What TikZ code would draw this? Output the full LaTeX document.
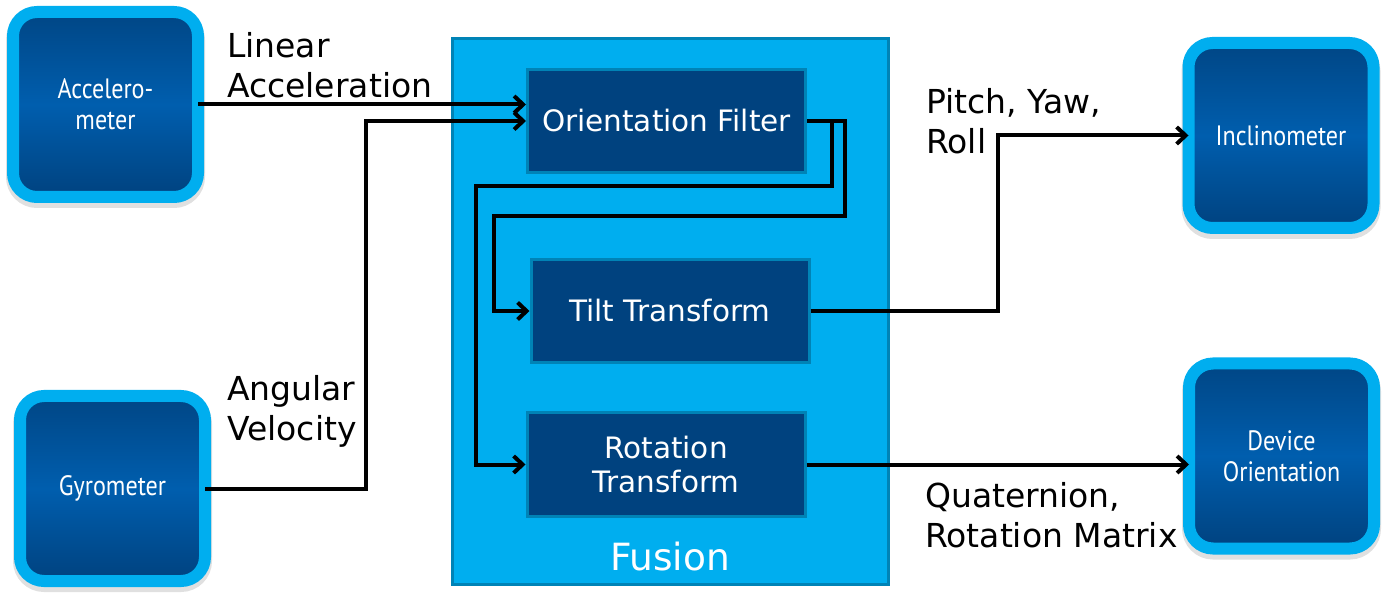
\documentclass[tikz,border=0pt]{standalone}
\usepackage{fontspec}
\setmainfont{DejaVu Sans}
\newfontfamily\boxfont[FakeStretch=0.86]{PT Sans}
\usetikzlibrary{arrows.meta,calc}
\definecolor{lightb}{HTML}{00AEEF}
\definecolor{fusborder}{HTML}{0083B6}
\definecolor{darkb}{HTML}{00427F}
\definecolor{gradtop}{HTML}{004685}
\definecolor{gradmid}{HTML}{005EAE}
\begin{document}
\begin{tikzpicture}[x=1pt,y=-1pt,
  sensor/.style={rectangle, rounded corners=24pt, minimum width=185pt, minimum height=185pt,
    inner sep=0pt, outer sep=0pt, draw=lightb, line width=12pt, top color=gradtop, bottom color=darkb,
    middle color=gradmid, text=white, font=\boxfont\fontsize{28}{31}\selectfont, align=center,
    preaction={draw=black, draw opacity=.12, line width=14pt, transform canvas={yshift=-4pt}}},
  fusionbox/.style={rectangle, minimum width=436pt, minimum height=546pt, inner sep=0pt,
    fill=lightb, draw=fusborder, line width=3pt},
  proc/.style={rectangle, minimum width=278pt, minimum height=103pt, inner sep=0pt,
    fill=darkb, draw=fusborder, line width=3pt, text=white,
    font=\fontsize{29.5}{34}\selectfont, align=center},
  lbl/.style={anchor=north west, inner sep=0pt, align=left, font=\fontsize{33}{40}\selectfont},
  arr/.style={draw=black, line width=4pt, -{Straight Barb[length=9pt,width=17pt]}},
]
\useasboundingbox (0,0) rectangle (1387,601);

% sensors
\node[sensor] (acc) at (105.5,104.5) {Accelero-\\meter};
\node[sensor] (gyro) at (112.5,488.5) {Gyrometer};
\node[sensor] (incl) at (1281,135.5) {Inclinometer};
\node[sensor] (dev) at (1281.5,456) {Device\\Orientation};

% fusion block
\node[fusionbox] (fus) at (670.5,311.5) {};
\node[text=white, font=\fontsize{37.5}{42}\selectfont, inner sep=0pt] (fuslbl) at (670,557) {Fusion};

\node[proc] (of) at (666.5,121) {Orientation Filter};
\node[proc] (tilt) at (670,311) {Tilt Transform};
\node[proc] (rot) at (666,464.5) {Rotation\\Transform};

% labels
\node[lbl] (lin) at (227,32) {Linear\\Acceleration};
\node[lbl] (ang) at (227,375) {Angular\\Velocity};
\node[lbl] (pyr) at (926,88) {Pitch, Yaw,\\Roll};
\node[lbl] (qrm) at (925,482) {Quaternion,\\Rotation Matrix};

% connectors
\draw[arr] (acc.east) -- (of.west |- acc.east);
\draw[arr] (gyro.east) -| ([xshift=-160pt]of.west) -- (of.west);
\draw[arr] (of.east) -| (845,216) -| ([xshift=-36pt]tilt.west) -- (tilt.west);
\draw[arr] (of.east) -| (832,186) -| ([xshift=-50pt]rot.west) -- (rot.west);
\draw[arr] (tilt.east) -| ([xshift=-191pt]incl.west) -- (incl.west);
\draw[arr] (rot.east) -- (dev.west |- rot.east);
\end{tikzpicture}
\end{document}
